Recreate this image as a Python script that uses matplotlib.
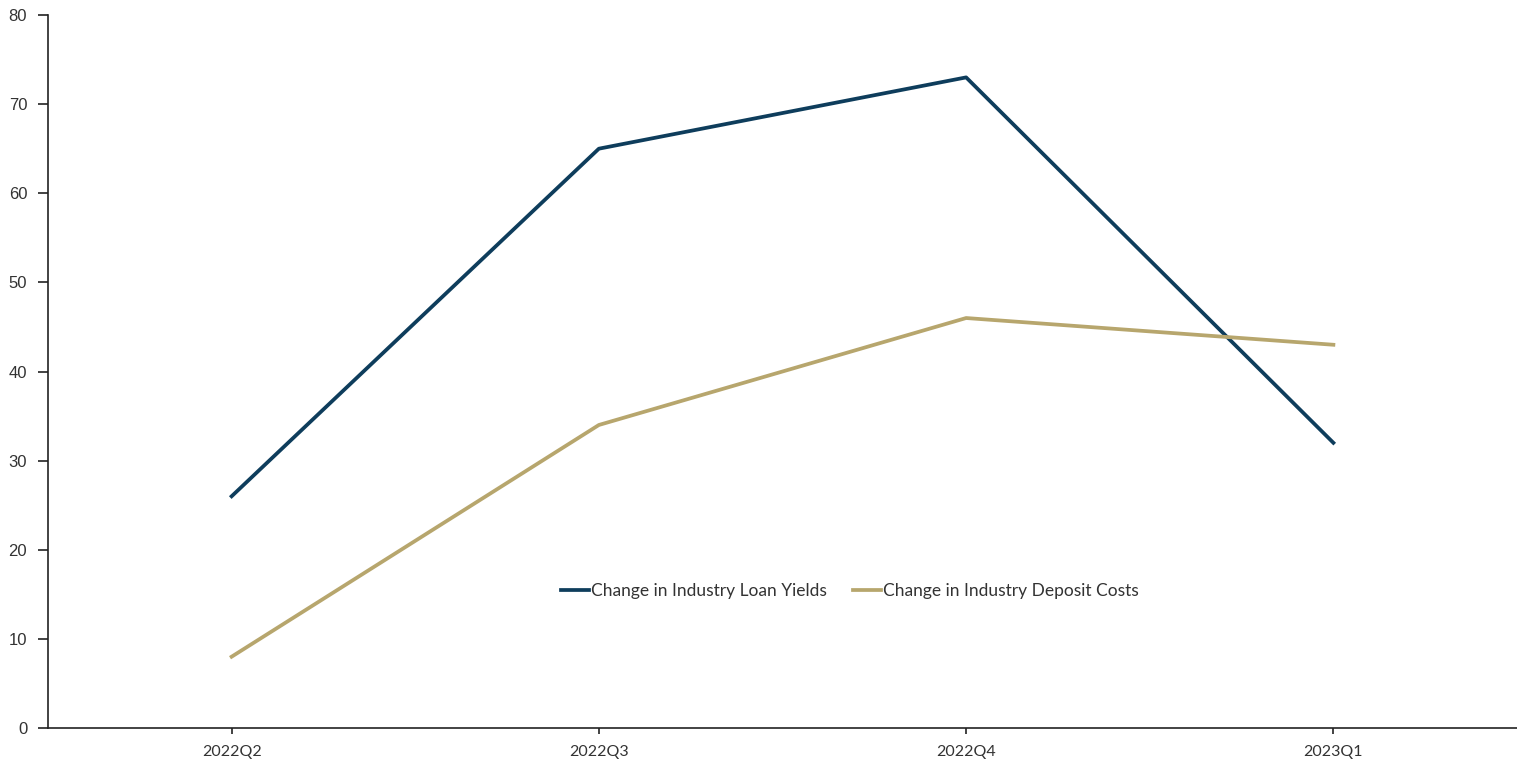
import matplotlib
matplotlib.use('Agg')
import matplotlib.pyplot as plt

# data
quarters = ['2022Q2', '2022Q3', '2022Q4', '2023Q1']
loan_yields = [26, 65, 73, 32]
deposit_costs = [8, 34, 46, 43]
yticks = list(range(0, 81, 10))

navy = '#0E3D5C'
tan = '#B7A66D'

fig = plt.figure(figsize=(15.17, 7.66), dpi=100)
ax = fig.add_axes([48/1517, 1 - 728/766, 1 - 48/1517, (728 - 15)/766])

x = range(len(quarters))
ax.plot(x, loan_yields, color=navy, lw=2.7, label='Change in Industry Loan Yields')
ax.plot(x, deposit_costs, color=tan, lw=2.7, label='Change in Industry Deposit Costs')

ax.set_xlim(-0.5, 3.5)
ax.set_ylim(0, 80)
ax.set_yticks(yticks)
ax.set_yticklabels([str(v) for v in yticks], family=['Liberation Sans', 'DejaVu Sans'],
                   fontsize=12, color='#333333')
ax.set_xticks(list(x))
ax.set_xticklabels(quarters, family=['Lato', 'DejaVu Sans'], fontsize=11.5, color='#333333')

for s in ['top', 'right']:
    ax.spines[s].set_visible(False)
for s in ['left', 'bottom']:
    ax.spines[s].set_linewidth(1.2)
    ax.spines[s].set_color('#222222')
ax.tick_params(axis='y', length=7, width=1.2, color='#222222', pad=8)
ax.tick_params(axis='x', length=4, width=1.2, color='#222222', pad=8)

leg = ax.legend(loc='center', bbox_to_anchor=(850/1517, 1 - 591/766),
                bbox_transform=fig.transFigure, ncol=2, frameon=False,
                handlelength=1.6, handletextpad=0.15, columnspacing=1.5,
                prop={'family': ['Lato', 'DejaVu Sans'], 'size': 12.5})
for t in leg.get_texts():
    t.set_color('#333333')

fig.savefig('out.png', dpi=100)
